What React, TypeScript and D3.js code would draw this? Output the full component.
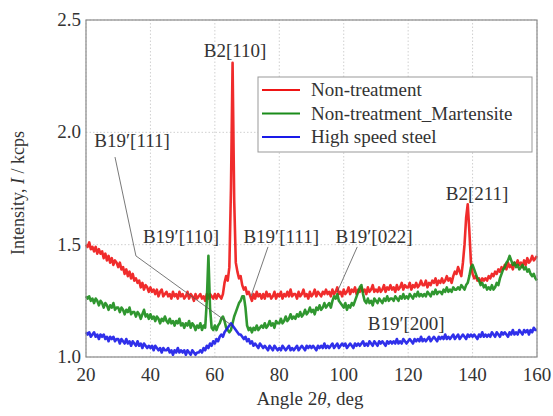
import React from 'react';
import * as d3 from 'd3';

const angles: number[] = d3.range(281).map((i) => 20 + i * 0.5);

const nonTreatment = [
  1.50,1.49,1.51,1.48,1.49,1.47,1.49,1.46,1.48,1.46,
  1.47,1.44,1.46,1.43,1.45,1.42,1.44,1.41,1.43,1.42,
  1.40,1.42,1.39,1.40,1.37,1.39,1.36,1.38,1.35,1.37,
  1.34,1.35,1.33,1.34,1.31,1.33,1.30,1.32,1.31,1.29,
  1.31,1.29,1.30,1.28,1.30,1.27,1.29,1.30,1.27,1.28,
  1.29,1.27,1.28,1.26,1.29,1.27,1.28,1.26,1.29,1.27,
  1.28,1.26,1.27,1.29,1.26,1.28,1.27,1.25,1.28,1.26,
  1.27,1.28,1.26,1.27,1.25,1.28,1.26,1.28,1.27,1.26,
  1.28,1.26,1.28,1.27,1.26,1.28,1.33,1.36,1.34,1.40,
  1.75,2.31,1.70,1.42,1.38,1.35,1.36,1.32,1.30,1.31,
  1.28,1.29,1.27,1.25,1.28,1.26,1.29,1.27,1.28,1.26,
  1.28,1.26,1.29,1.27,1.28,1.26,1.27,1.29,1.26,1.28,
  1.27,1.29,1.26,1.28,1.27,1.29,1.27,1.30,1.27,1.28,
  1.28,1.26,1.29,1.27,1.28,1.30,1.27,1.28,1.26,1.29,
  1.27,1.28,1.30,1.27,1.29,1.28,1.27,1.29,1.28,1.30,
  1.28,1.29,1.27,1.30,1.28,1.29,1.31,1.28,1.29,1.27,
  1.30,1.28,1.29,1.31,1.28,1.30,1.29,1.31,1.28,1.30,
  1.29,1.31,1.29,1.30,1.28,1.31,1.29,1.30,1.32,1.29,
  1.30,1.29,1.31,1.29,1.30,1.32,1.29,1.31,1.30,1.32,
  1.30,1.31,1.29,1.32,1.30,1.31,1.33,1.30,1.32,1.31,
  1.31,1.33,1.30,1.32,1.31,1.33,1.31,1.32,1.34,1.32,
  1.32,1.34,1.31,1.33,1.32,1.34,1.33,1.35,1.32,1.34,
  1.33,1.35,1.33,1.34,1.36,1.34,1.35,1.33,1.36,1.38,
  1.37,1.40,1.38,1.36,1.42,1.50,1.62,1.68,1.56,1.42,
  1.37,1.35,1.36,1.34,1.35,1.33,1.35,1.34,1.35,1.34,
  1.36,1.35,1.37,1.36,1.38,1.37,1.39,1.38,1.40,1.39,
  1.41,1.39,1.42,1.40,1.41,1.39,1.42,1.41,1.43,1.41,
  1.42,1.40,1.43,1.41,1.44,1.42,1.43,1.45,1.43,1.44,
  1.45,
];

const martensite = [
  1.27,1.26,1.27,1.25,1.26,1.24,1.26,1.25,1.23,1.25,
  1.24,1.22,1.24,1.23,1.21,1.23,1.22,1.24,1.21,1.22,
  1.22,1.20,1.22,1.21,1.19,1.21,1.20,1.22,1.19,1.20,
  1.20,1.18,1.20,1.19,1.17,1.19,1.21,1.18,1.19,1.17,
  1.19,1.17,1.18,1.16,1.18,1.17,1.15,1.17,1.16,1.18,
  1.16,1.15,1.17,1.15,1.16,1.14,1.16,1.15,1.17,1.14,
  1.15,1.13,1.15,1.14,1.16,1.13,1.15,1.14,1.12,1.14,
  1.13,1.15,1.12,1.14,1.13,1.25,1.45,1.22,1.13,1.12,
  1.14,1.12,1.14,1.15,1.17,1.18,1.16,1.13,1.12,1.11,
  1.12,1.15,1.18,1.20,1.22,1.24,1.25,1.27,1.27,1.22,
  1.14,1.12,1.13,1.11,1.13,1.12,1.14,1.12,1.13,1.14,
  1.13,1.15,1.13,1.14,1.16,1.14,1.15,1.13,1.16,1.15,
  1.15,1.17,1.15,1.16,1.18,1.16,1.17,1.19,1.17,1.18,
  1.17,1.19,1.18,1.20,1.18,1.19,1.21,1.19,1.20,1.22,
  1.20,1.21,1.19,1.22,1.21,1.23,1.21,1.22,1.24,1.22,
  1.23,1.24,1.22,1.25,1.27,1.26,1.28,1.25,1.24,1.23,
  1.22,1.24,1.21,1.23,1.22,1.24,1.23,1.25,1.27,1.29,
  1.31,1.32,1.28,1.25,1.24,1.26,1.24,1.25,1.23,1.26,
  1.25,1.24,1.26,1.25,1.24,1.26,1.25,1.27,1.25,1.26,
  1.26,1.25,1.27,1.26,1.25,1.27,1.26,1.28,1.26,1.27,
  1.26,1.28,1.27,1.26,1.28,1.27,1.29,1.27,1.28,1.27,
  1.28,1.27,1.29,1.28,1.27,1.29,1.28,1.30,1.28,1.29,
  1.29,1.28,1.30,1.29,1.31,1.29,1.30,1.29,1.31,1.30,
  1.30,1.31,1.30,1.32,1.31,1.30,1.32,1.33,1.36,1.40,
  1.41,1.39,1.37,1.35,1.34,1.32,1.33,1.31,1.32,1.30,
  1.31,1.30,1.32,1.30,1.31,1.33,1.32,1.35,1.37,1.39,
  1.40,1.42,1.43,1.45,1.43,1.41,1.42,1.40,1.41,1.39,
  1.40,1.41,1.39,1.40,1.38,1.39,1.37,1.36,1.37,1.35,
  1.34,
];

const highSpeedSteel = [
  1.11,1.10,1.11,1.09,1.10,1.11,1.09,1.10,1.08,1.10,
  1.09,1.10,1.08,1.09,1.07,1.09,1.08,1.09,1.07,1.08,
  1.08,1.06,1.08,1.07,1.06,1.08,1.06,1.07,1.05,1.07,
  1.06,1.05,1.07,1.05,1.06,1.04,1.06,1.05,1.04,1.05,
  1.04,1.05,1.03,1.05,1.04,1.03,1.04,1.02,1.04,1.03,
  1.03,1.04,1.02,1.03,1.01,1.03,1.02,1.04,1.02,1.03,
  1.02,1.03,1.01,1.03,1.02,1.01,1.03,1.02,1.01,1.02,
  1.02,1.03,1.02,1.04,1.03,1.05,1.04,1.06,1.05,1.07,
  1.06,1.08,1.07,1.09,1.10,1.09,1.11,1.12,1.13,1.14,
  1.15,1.14,1.13,1.12,1.11,1.10,1.10,1.09,1.08,1.09,
  1.07,1.08,1.06,1.07,1.05,1.06,1.05,1.04,1.06,1.05,
  1.04,1.05,1.04,1.03,1.05,1.04,1.03,1.05,1.04,1.03,
  1.04,1.03,1.05,1.04,1.03,1.04,1.05,1.03,1.04,1.03,
  1.04,1.05,1.03,1.04,1.05,1.04,1.03,1.05,1.04,1.05,
  1.04,1.05,1.04,1.03,1.05,1.04,1.05,1.04,1.06,1.04,
  1.05,1.04,1.05,1.06,1.04,1.05,1.06,1.04,1.05,1.06,
  1.05,1.06,1.04,1.05,1.06,1.05,1.04,1.06,1.05,1.06,
  1.05,1.06,1.07,1.05,1.06,1.05,1.07,1.06,1.05,1.07,
  1.06,1.05,1.07,1.06,1.07,1.06,1.05,1.07,1.06,1.07,
  1.06,1.07,1.06,1.08,1.06,1.07,1.06,1.08,1.07,1.06,
  1.07,1.08,1.07,1.06,1.08,1.07,1.08,1.07,1.09,1.07,
  1.08,1.07,1.08,1.09,1.07,1.08,1.09,1.08,1.07,1.09,
  1.08,1.09,1.08,1.10,1.08,1.09,1.08,1.09,1.10,1.08,
  1.09,1.10,1.08,1.09,1.10,1.09,1.08,1.10,1.09,1.10,
  1.09,1.10,1.09,1.08,1.10,1.09,1.11,1.09,1.10,1.09,
  1.10,1.09,1.11,1.10,1.09,1.11,1.10,1.09,1.11,1.10,
  1.11,1.10,1.09,1.11,1.10,1.12,1.10,1.11,1.10,1.12,
  1.11,1.10,1.12,1.11,1.12,1.10,1.12,1.11,1.13,1.12,
  1.12,
];

const xTicks = [20, 40, 60, 80, 100, 120, 140, 160];
const yTicks = [1.0, 1.5, 2.0, 2.5];
const seriesNames = ['Non-treatment', 'Non-treatment_Martensite', 'High speed steel'];
const seriesColors = ['#ee1515', '#1a8c1a', '#1a1ae8'];

const peakLabels = [
  { text: 'B2[110]', angle: 66.3, value: 2.335 },
  { text: 'B19\u2032[111]', angle: 34.3, value: 1.935 },
  { text: 'B19\u2032[110]', angle: 49.5, value: 1.507 },
  { text: 'B19\u2032[111]', angle: 80.6, value: 1.507 },
  { text: 'B19\u2032[022]', angle: 109.4, value: 1.507 },
  { text: 'B19\u2032[200]', angle: 119.4, value: 1.12 },
  { text: 'B2[211]', angle: 141.4, value: 1.70 },
];

const leaderLines: [number, number][][] = [
  [[29.0, 1.89], [35.5, 1.45], [65.3, 1.14]],
  [[76.5, 1.49], [71.2, 1.27]],
  [[104.2, 1.49], [98.0, 1.29]],
];

const FONT = "'Times New Roman', serif";
const TXT = '#333';
const tStyle = { fontFamily: FONT } as React.CSSProperties;
const FS = 19;

export default function App() {
  const W = 553, H = 416;
  const x = d3.scaleLinear().domain([20, 160]).range([86, 537]);
  const y = d3.scaleLinear().domain([1.0, 2.5]).range([357, 20]);
  const series = [nonTreatment, martensite, highSpeedSteel];
  const line = d3.line<[number, number]>().x((d) => x(d[0])).y((d) => y(d[1]));
  const [x0, x1] = x.range();
  const [yb, yt] = y.range();

  const legX = 258, legY = 77, legW = 274, legH = 75;

  return (
    <svg width={W} height={H} style={{ position: 'absolute', left: 0, top: 0, background: '#fff', fontFamily: FONT }}>
      <rect x={0} y={0} width={W} height={H} fill="#fff" />
      {xTicks.map((t) => (
        <line key={'gx' + t} x1={x(t)} x2={x(t)} y1={yb} y2={yt} stroke="#c4c4c4" strokeWidth={0.8} strokeDasharray="1.5,2" />
      ))}
      {yTicks.map((t) => (
        <line key={'gy' + t} x1={x0} x2={x1} y1={y(t)} y2={y(t)} stroke="#c4c4c4" strokeWidth={0.8} strokeDasharray="1.5,2" />
      ))}
      {series.map((s, i) => (
        <path
          key={'s' + i}
          d={line(s.map((v, j) => [angles[j], v] as [number, number])) || ''}
          fill="none"
          stroke={seriesColors[i]}
          strokeWidth={2.6}
          strokeLinejoin="round"
          opacity={0.9}
        />
      ))}
      {leaderLines.map((pts, i) => (
        <path key={'ll' + i} d={line(pts) || ''} fill="none" stroke="#555" strokeWidth={0.8} />
      ))}
      <rect x={x0} y={yt} width={x1 - x0} height={yb - yt} fill="none" stroke="#8a8a8a" strokeWidth={1.2} />
      {xTicks.map((t) => (
        <text key={'tx' + t} style={tStyle} x={x(t)} y={381} textAnchor="middle" fontSize={FS} fill={TXT}>{t}</text>
      ))}
      {yTicks.map((t) => (
        <text key={'ty' + t} style={tStyle} x={81} y={y(t) + 6} textAnchor="end" fontSize={FS} fill={TXT}>{t.toFixed(1)}</text>
      ))}
      <text style={tStyle} x={310} y={405} textAnchor="middle" fontSize={FS} fill={TXT}>
        Angle 2<tspan fontStyle="italic">θ</tspan>, deg
      </text>
      <text style={tStyle} transform={`translate(24,193) rotate(-90)`} textAnchor="middle" fontSize={18} fill={TXT}>
        Intensity, <tspan fontStyle="italic">I</tspan> / kcps
      </text>
      {peakLabels.map((p, i) => (
        <text key={'pl' + i} style={tStyle} x={x(p.angle)} y={y(p.value)} textAnchor="middle" fontSize={FS} fill={TXT}>
          {p.text}
        </text>
      ))}
      <rect x={legX} y={legY} width={legW} height={legH} fill="#fff" stroke="#999" strokeWidth={1} />
      {seriesNames.map((n, i) => (
        <g key={'lg' + i}>
          <line x1={legX + 4} x2={legX + 42} y1={legY + 13 + i * 23.5} y2={legY + 13 + i * 23.5} stroke={seriesColors[i]} strokeWidth={2.2} />
          <text style={tStyle} x={legX + 53} y={legY + 19 + i * 23.5} fontSize={FS} fill={TXT}>
            {n}
          </text>
        </g>
      ))}
    </svg>
  );
}
